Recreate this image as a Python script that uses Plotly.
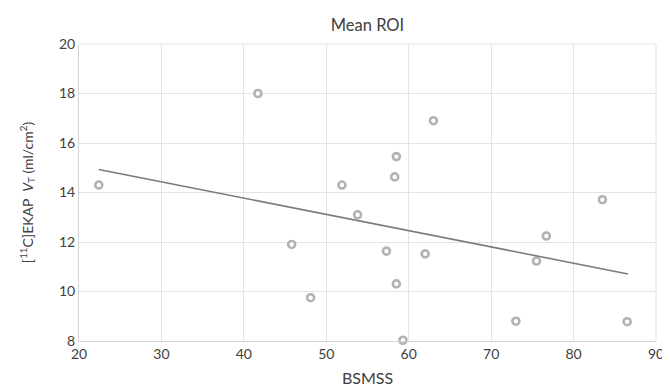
import plotly.graph_objects as go

# Data
bsmss = [22.4, 41.7, 51.9, 53.8, 45.8, 48.1, 63.0, 58.5, 58.3, 83.5, 76.7, 57.3, 62.0, 75.5, 58.5, 73.0, 86.5, 59.3]
vt = [14.3, 18.0, 14.3, 13.1, 11.9, 9.75, 16.9, 15.45, 14.63, 13.71, 12.24, 11.63, 11.52, 11.23, 10.31, 8.8, 8.78, 8.03]
trend_x = [22.4, 86.6]
trend_y = [14.93, 10.71]

x_ticks = [20, 30, 40, 50, 60, 70, 80, 90]
y_ticks = [8, 10, 12, 14, 16, 18, 20]

FONT = "Lato, 'Open Sans', sans-serif"
GRID = "#e3e3e3"
TXT = "#404040"

fig = go.Figure()
fig.add_trace(go.Scatter(
    x=bsmss, y=vt, mode="markers",
    marker=dict(symbol="circle", size=7, color="white",
                line=dict(color="#b2b2b6", width=2.6)),
    showlegend=False, cliponaxis=False,
))
fig.add_trace(go.Scatter(
    x=trend_x, y=trend_y, mode="lines",
    line=dict(color="#7b7b7f", width=1.6),
    showlegend=False,
))

fig.update_layout(
    width=670, height=389,
    margin=dict(l=71, r=22, t=36, b=53),
    paper_bgcolor="white", plot_bgcolor="white",
    font=dict(family=FONT, color=TXT, size=14),
    title=dict(text="Mean ROI", x=0.5365, xanchor="center", y=0.955, yanchor="middle",
               font=dict(size=16.5, color=TXT)),
    xaxis=dict(range=[20, 90], tickvals=x_ticks, showgrid=True, gridcolor=GRID, gridwidth=1,
               zeroline=False, showline=True, linecolor="#d4d4d4", linewidth=1,
               ticks="", ticklen=0, tickfont=dict(size=14, color=TXT),
               title=dict(text="BSMSS", font=dict(size=16, color=TXT), standoff=12)),
    yaxis=dict(range=[8, 20], tickvals=y_ticks, showgrid=True, gridcolor=GRID, gridwidth=1,
               zeroline=False, showline=True, linecolor="#d4d4d4", linewidth=1,
               ticks="", ticklen=0, tickfont=dict(size=14, color=TXT),
               title=dict(text="[<sup>11</sup>C]EKAP  <i>V</i><sub>T</sub> (ml/cm<sup>2</sup>)",
                          font=dict(size=14, color=TXT), standoff=22)),
)
fig.add_shape(type="line", xref="paper", yref="paper", x0=1, x1=1, y0=0, y1=1,
              line=dict(color=GRID, width=1))
fig.add_shape(type="line", xref="paper", yref="paper", x0=0, x1=1, y0=1, y1=1,
              line=dict(color=GRID, width=1))

fig.write_html("out.html")
